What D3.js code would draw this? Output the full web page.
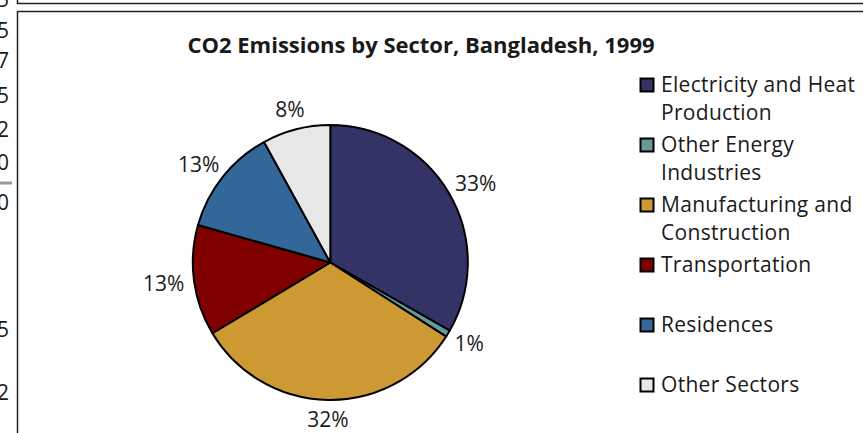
<!DOCTYPE html>
<html>
<head>
<meta charset="utf-8">
<script src="https://cdn.jsdelivr.net/npm/d3@7"></script>
<style>
  body { margin: 0; background: #fff; }
  text { font-family: "Open Sans", sans-serif; fill: #1a1a1a; }
</style>
</head>
<body>
<div id="chart"></div>
<script>
// Chart data
var sectors = ["Electricity and Heat Production", "Other Energy Industries", "Manufacturing and Construction",
  "Transportation", "Residences", "Other Sectors"];
var legendLines = [["Electricity and Heat", "Production"], ["Other Energy", "Industries"],
  ["Manufacturing and", "Construction"], ["Transportation"], ["Residences"], ["Other Sectors"]];
var shares = [33.25, 0.8, 32.35, 13.0, 12.6, 8.0];
var percentLabels = ["33%", "1%", "32%", "13%", "13%", "8%"];
var colors = ["#333366", "#669999", "#CC9933", "#800000", "#336699", "#E8E8E8"];

// Cut-off cell text from the sheet behind the chart
var sideDigits = ["5", "5", "7", "5", "2", "0", "0", "5", "2"];
var sideDigitY = [7, 38, 68, 103, 137, 170, 210, 337, 400];

var svgWidth = 863;
var svgHeight = 433;

var svg = d3.select("#chart")
  .append("svg")
  .attr("width", svgWidth)
  .attr("height", svgHeight);

// Background sheet pieces
svg.selectAll(".sideDigit")
  .data(sideDigits)
  .enter()
  .append("text")
  .attr("x", 9)
  .attr("y", (d, i) => sideDigitY[i])
  .attr("text-anchor", "end")
  .attr("font-size", 21)
  .text(d => d);

svg.append("line")
  .attr("x1", 0).attr("x2", 12)
  .attr("y1", 183).attr("y2", 183)
  .attr("stroke", "#999").attr("stroke-width", 3);

svg.append("path")
  .attr("d", "M17.5,0V3.5H870")
  .attr("fill", "none")
  .attr("stroke", "#222")
  .attr("stroke-width", 1.5);

// Chart frame
svg.append("rect")
  .attr("x", 17.5).attr("y", 11.5)
  .attr("width", 900).attr("height", 500)
  .attr("fill", "#fff")
  .attr("stroke", "#222")
  .attr("stroke-width", 1.5);

// Title
svg.append("text")
  .attr("x", 421)
  .attr("y", 53)
  .attr("text-anchor", "middle")
  .attr("font-size", 22)
  .attr("font-weight", "bold")
  .text("CO2 Emissions by Sector, Bangladesh, 1999");

// Pie
var cx = 330.3, cy = 262.5, radius = 137.5;
var pieGroup = svg.append("g")
  .attr("transform", `translate(${cx}, ${cy})`);

var pie = d3.pie().sort(null).value(d => d);
var arcs = pie(shares);
var arc = d3.arc().innerRadius(0).outerRadius(radius);

pieGroup.selectAll("path")
  .data(arcs)
  .enter()
  .append("path")
  .attr("d", arc)
  .attr("fill", (d, i) => colors[i])
  .attr("stroke", "#000")
  .attr("stroke-width", 2)
  .attr("stroke-linejoin", "round");

// Labels sit just outside the rim, pushed out by half their box
var labels = pieGroup.selectAll(".pctLabel")
  .data(arcs)
  .enter()
  .append("text")
  .classed("pctLabel", true)
  .attr("text-anchor", "middle")
  .attr("dy", "0.35em")
  .attr("font-size", 21)
  .text((d, i) => percentLabels[i]);

labels.attr("transform", function(d) {
  var a = (d.startAngle + d.endAngle) / 2;
  var w = this.getComputedTextLength();
  var r = radius + 10;
  var x = r * Math.sin(a) + w / 2 * Math.sin(a);
  var y = -r * Math.cos(a) - 10 * Math.cos(a);
  return `translate(${x}, ${y})`;
});

// Legend
var legend = svg.append("g")
  .attr("transform", "translate(640, 85)");

var items = legend.selectAll(".legendItem")
  .data(sectors)
  .enter()
  .append("g")
  .attr("transform", (d, i) => `translate(0, ${i * 60})`);

items.append("rect")
  .attr("x", 0.5).attr("y", -6.5)
  .attr("width", 13).attr("height", 13)
  .attr("fill", (d, i) => colors[i])
  .attr("stroke", "#000")
  .attr("stroke-width", 2);

items.each(function(d, i) {
  d3.select(this).selectAll("text")
    .data(legendLines[i])
    .enter()
    .append("text")
    .attr("x", 21)
    .attr("y", (t, j) => j * 28)
    .attr("dy", "0.35em")
    .attr("font-size", 21)
    .attr("letter-spacing", 0.3)
    .text(t => t);
});
</script>
</body>
</html>
